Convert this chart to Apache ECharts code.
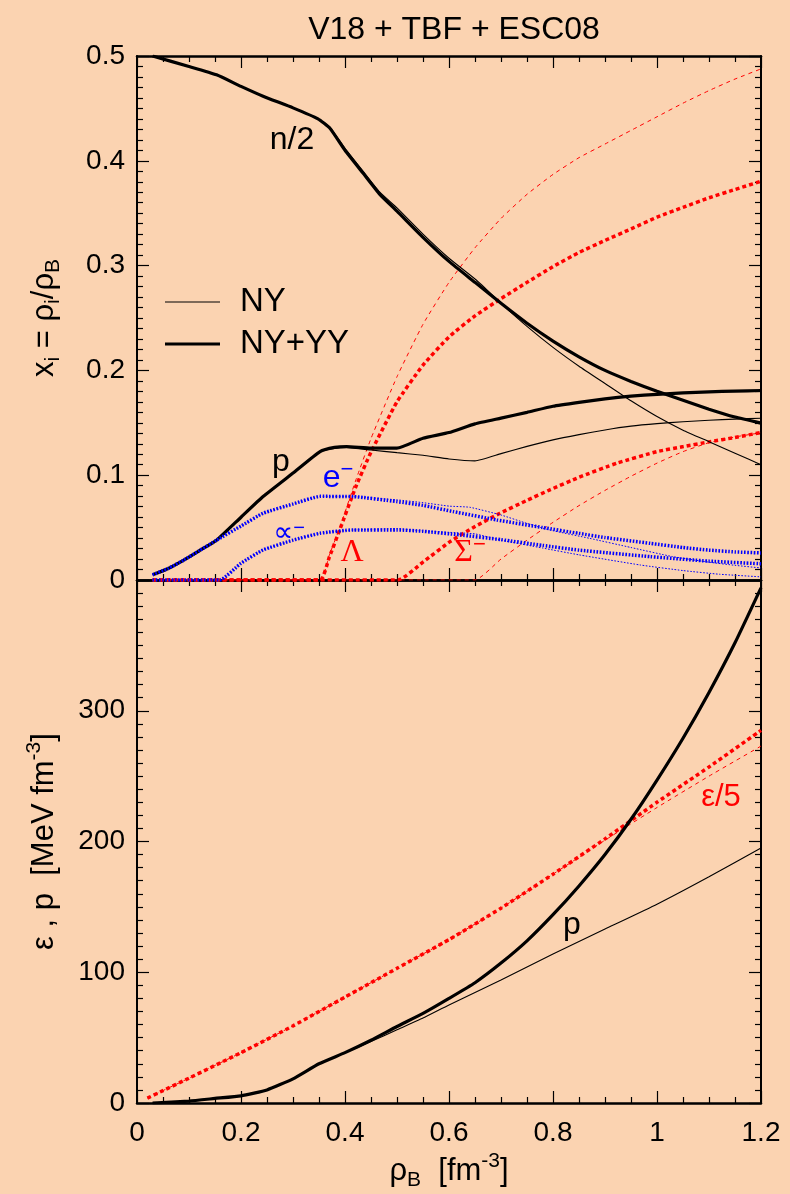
<!DOCTYPE html>
<html>
<head>
<meta charset="utf-8">
<script src="https://cdn.jsdelivr.net/npm/echarts@6/dist/echarts.min.js"></script>
<style>
html,body{margin:0;padding:0;background:#fbd3b1;}
#wrap{position:relative;width:790px;height:1194px;}
#axes,#plot{position:absolute;left:0;top:0;width:790px;height:1194px;}
</style>
</head>
<body>
<div id="wrap"><div id="axes"></div><div id="plot"></div></div>
<script>
// ---------- data ----------
// upper panel: particle fractions x_i vs rho_B  [fm^-3]
const nHalf_NY = [[0.03,0.500],[0.1,0.490],[0.153,0.482],[0.2,0.471],[0.2425,0.4616],[0.3,0.4505],[0.348,0.440],[0.371,0.432],[0.4,0.412],[0.435,0.390],[0.467,0.370],[0.5,0.355],[0.55,0.330],[0.6,0.307],[0.653,0.286],[0.7,0.264],[0.75,0.242],[0.8,0.222],[0.85,0.204],[0.9,0.1875],[0.95,0.171],[1.0,0.156],[1.05,0.143],[1.1,0.132],[1.15,0.121],[1.2,0.110]];
const nHalf_YY = [[0.03,0.500],[0.1,0.490],[0.153,0.482],[0.2,0.471],[0.2425,0.4616],[0.3,0.4505],[0.348,0.440],[0.371,0.431],[0.4,0.410],[0.435,0.388],[0.467,0.368],[0.5,0.352],[0.55,0.327],[0.6,0.304],[0.65,0.284],[0.7,0.264],[0.75,0.245],[0.8,0.228],[0.85,0.213],[0.9,0.200],[0.95,0.1895],[1.0,0.180],[1.05,0.1715],[1.1,0.163],[1.15,0.1555],[1.2,0.1497]];
const p_NY = [[0.03,0.005],[0.06,0.011],[0.09,0.019],[0.12,0.028],[0.153,0.038],[0.2,0.0599],[0.2425,0.0796],[0.3,0.102],[0.352,0.1225],[0.38,0.1255],[0.403,0.1262],[0.45,0.124],[0.5,0.1215],[0.55,0.119],[0.6,0.1155],[0.65,0.1137],[0.7,0.1206],[0.75,0.1275],[0.8,0.1337],[0.85,0.1387],[0.9,0.1432],[0.95,0.1468],[1.0,0.1492],[1.05,0.151],[1.1,0.1525],[1.15,0.1535],[1.2,0.1544]];
const p_YY = [[0.03,0.005],[0.06,0.011],[0.09,0.019],[0.12,0.028],[0.153,0.038],[0.2,0.0599],[0.2425,0.0796],[0.3,0.102],[0.352,0.1225],[0.38,0.1265],[0.403,0.1274],[0.45,0.1258],[0.5,0.1258],[0.55,0.1353],[0.6,0.1407],[0.65,0.149],[0.7,0.1545],[0.75,0.160],[0.8,0.1658],[0.85,0.1695],[0.9,0.1728],[0.95,0.1755],[1.0,0.1772],[1.05,0.1785],[1.1,0.1795],[1.15,0.1803],[1.2,0.1808]];
const e_NY = [[0.03,0.005],[0.06,0.011],[0.09,0.019],[0.12,0.028],[0.153,0.038],[0.2,0.0515],[0.2425,0.0637],[0.3,0.0725],[0.352,0.0798],[0.416,0.0796],[0.4995,0.0765],[0.55,0.0738],[0.6,0.0705],[0.64,0.0694],[0.7,0.062],[0.75,0.054],[0.78,0.0495],[0.8,0.047],[0.87,0.0398],[0.95,0.031],[1.03,0.0223],[1.1,0.017],[1.15,0.014],[1.2,0.0115]];
const e_YY = [[0.03,0.005],[0.06,0.011],[0.09,0.019],[0.12,0.028],[0.153,0.038],[0.2,0.0515],[0.2425,0.0637],[0.3,0.0725],[0.352,0.0798],[0.416,0.0796],[0.4995,0.0748],[0.55,0.0712],[0.608,0.0653],[0.692,0.0573],[0.78,0.0500],[0.85,0.0445],[0.9,0.0405],[0.987,0.0350],[1.05,0.0310],[1.1,0.0285],[1.15,0.0268],[1.2,0.0258]];
const mu_NY = [[0.03,0],[0.159,0],[0.2,0.016],[0.2425,0.0287],[0.3,0.038],[0.352,0.0446],[0.416,0.0478],[0.4995,0.049],[0.544,0.047],[0.6,0.0455],[0.65,0.044],[0.7,0.038],[0.78,0.0305],[0.85,0.024],[0.968,0.0143],[1.05,0.009],[1.12,0.0055],[1.2,0.003]];
const mu_YY = [[0.03,0],[0.159,0],[0.2,0.016],[0.2425,0.0287],[0.3,0.038],[0.352,0.0446],[0.416,0.0478],[0.4995,0.0478],[0.55,0.0465],[0.621,0.043],[0.7,0.0385],[0.78,0.033],[0.85,0.0285],[0.987,0.0223],[1.1,0.018],[1.2,0.0155]];
const lam_NY = [[0.03,0],[0.352,0],[0.37,0.024],[0.39,0.05],[0.422,0.097],[0.45,0.135],[0.5,0.194],[0.55,0.244],[0.6,0.284],[0.65,0.317],[0.7,0.345],[0.75,0.368],[0.8,0.387],[0.85,0.403],[0.9,0.416],[0.95,0.429],[1.0,0.442],[1.05,0.455],[1.1,0.467],[1.15,0.478],[1.2,0.4877]];
const lam_YY = [[0.03,0],[0.352,0],[0.37,0.022],[0.39,0.048],[0.42,0.088],[0.45,0.122],[0.5,0.170],[0.55,0.205],[0.6,0.232],[0.65,0.252],[0.7,0.2685],[0.75,0.284],[0.8,0.299],[0.85,0.3125],[0.9,0.324],[0.95,0.335],[1.0,0.3462],[1.05,0.3556],[1.1,0.3647],[1.15,0.3726],[1.2,0.3805]];
const sig_NY = [[0.03,0],[0.65,0],[0.7,0.02],[0.75,0.038],[0.8,0.055],[0.85,0.071],[0.9,0.0855],[0.95,0.099],[1.0,0.1115],[1.05,0.1225],[1.1,0.131],[1.15,0.1365],[1.2,0.1405]];
const sig_YY = [[0.03,0],[0.502,0],[0.551,0.0175],[0.602,0.0366],[0.65,0.051],[0.698,0.0637],[0.75,0.076],[0.794,0.086],[0.85,0.098],[0.923,0.1115],[1.0,0.1225],[1.051,0.1273],[1.1,0.1318],[1.15,0.136],[1.2,0.1407]];
// lower panel: energy density /5 and pressure [MeV fm^-3]
const eps5_NY = [[0.02,3.7],[0.05,9.5],[0.1,19],[0.2,38.5],[0.3,59],[0.4,81],[0.5,103],[0.6,125],[0.7,149],[0.8,175],[0.9,201],[1.0,226],[1.1,250],[1.2,273]];
const eps5_YY = [[0.02,3.7],[0.05,9.5],[0.1,19],[0.2,38.5],[0.3,59],[0.4,81],[0.5,103],[0.6,125],[0.7,149],[0.8,175],[0.9,202],[1.0,230],[1.1,257],[1.2,285]];
const P_NY = [[0.03,0],[0.1,1.5],[0.15,3.5],[0.2,5.5],[0.25,10],[0.3,18.5],[0.35,30],[0.4,38.5],[0.45,47],[0.5,56],[0.55,65],[0.6,75],[0.7,94],[0.8,114],[0.9,133],[1.0,152],[1.1,173],[1.2,195]];
const P_YY = [[0.03,0],[0.1,1.5],[0.15,3.5],[0.2,5.5],[0.25,10],[0.3,18.5],[0.35,30],[0.4,38.5],[0.45,48],[0.5,58.5],[0.55,68.5],[0.6,80],[0.65,92],[0.7,107],[0.75,124],[0.8,144],[0.85,166],[0.9,190],[0.95,217],[1.0,247],[1.05,279],[1.1,314],[1.15,352],[1.2,394]];

const xTicks = {min:0, max:1.2, interval:0.2};
const yTopTicks = {min:0, max:0.5, interval:0.1};
const yBotTicks = {min:0, max:400, interval:100};
const legendNames = ['NY', 'NY+YY'];

// ---------- shared layout ----------
const FONT = '"Liberation Sans", Arial, Helvetica, sans-serif';
const SERIF = '"Liberation Serif", "Times New Roman", serif';
const BG = '#fbd3b1';
const RED = '#ff0000', BLUE = '#0000ff';
const GRIDS = [
  {left:137, right:29, top:56, height:524},
  {left:137, right:29, top:580, height:523}
];

// ---------- layer 1: frame, ticks and tick labels ----------
function xAxisCfg(grid, pos, labels){
  return {
    type:'value', gridIndex:grid, position:pos, min:xTicks.min, max:xTicks.max, interval:xTicks.interval,
    axisLine:{show:true, onZero:false, lineStyle:{color:'#000', width:2.5}},
    axisTick:{show:true, inside:true, length:12, lineStyle:{width:1.2}},
    minorTick:{show:true, splitNumber:4, length:6, lineStyle:{width:1.2}},
    splitLine:{show:false}, minorSplitLine:{show:false},
    axisLabel:{show:labels, margin:16, fontSize:28, color:'#000', fontFamily:FONT,
      formatter: v => { const r = Math.round(v*10)/10; return (r===0?'0':(r===1?'1':r.toFixed(1))); }}
  };
}
function yAxisCfg(grid, pos, t, labels, fmt){
  const cfg = {
    type:'value', gridIndex:grid, position:pos, min:t.min, max:t.max, interval:t.interval,
    axisLine:{show:true, onZero:false, lineStyle:{color:'#000', width:2}},
    axisTick:{show:true, inside:true, length:12, lineStyle:{width:1.2}},
    minorTick:{show:true, splitNumber:10, length:6, lineStyle:{width:1.2}},
    splitLine:{show:false}, minorSplitLine:{show:false},
    axisLabel:{show:labels, margin:12, fontSize:28, color:'#000', fontFamily:FONT}
  };
  if (fmt) cfg.axisLabel.formatter = fmt;
  return cfg;
}
const axesChart = echarts.init(document.getElementById('axes'), null, {renderer:'canvas'});
axesChart.setOption({
  backgroundColor: BG,
  animation: false,
  title: {text:'V18 + TBF + ESC08', left:449, top:9, textAlign:'center', textStyle:{fontSize:32, fontWeight:'normal', color:'#000', fontFamily:FONT}},
  grid: GRIDS,
  xAxis: [xAxisCfg(0,'bottom',false), xAxisCfg(0,'top',false), xAxisCfg(1,'bottom',true), xAxisCfg(1,'top',false)],
  yAxis: [
    yAxisCfg(0,'left',yTopTicks,true, v => { const r=Math.round(v*10)/10; return r===0?'0':r.toFixed(1); }),
    yAxisCfg(0,'right',yTopTicks,false),
    yAxisCfg(1,'left',yBotTicks,true, v => (v>=400?'':String(Math.round(v)))),
    yAxisCfg(1,'right',yBotTicks,false)
  ],
  series: []
});

// ---------- layer 2: curves, labels, legend, axis titles ----------
function hiddenAxis(grid, t, extra){
  return Object.assign({
    type:'value', gridIndex:grid, min:t.min, max:t.max, interval:t.interval,
    axisLine:{show:false, onZero:false}, axisTick:{show:false}, axisLabel:{show:false},
    splitLine:{show:false}
  }, extra || {});
}
function line(name, data, gi, color, width, dash){
  return {
    name, type:'line', data, xAxisIndex:gi, yAxisIndex:gi,
    symbol:'none', showSymbol:false, smooth:0.15, clip:true,
    lineStyle:{color, width, type:dash}, itemStyle:{color}, z:2
  };
}
const THIN = 1.1, THICK = 3.2;
const redDot = [4,3], redDash = [4,4], blueDot = [1.6,1.6];
const series = [
  line('Lambda NY', lam_NY, 0, RED, 1, redDash),
  line('Lambda NY+YY', lam_YY, 0, RED, 3.5, redDot),
  line('Sigma NY', sig_NY, 0, RED, 1, redDash),
  line('Sigma NY+YY', sig_YY, 0, RED, 3.5, redDot),
  line(legendNames[0], nHalf_NY, 0, '#000', THIN, 'solid'),
  line(legendNames[1], nHalf_YY, 0, '#000', THICK, 'solid'),
  line('p NY', p_NY, 0, '#000', THIN, 'solid'),
  line('p NY+YY', p_YY, 0, '#000', THICK, 'solid'),
  line('e NY', e_NY, 0, BLUE, 1, blueDot),
  line('e NY+YY', e_YY, 0, BLUE, 3.5, blueDot),
  line('mu NY', mu_NY, 0, BLUE, 1, blueDot),
  line('mu NY+YY', mu_YY, 0, BLUE, 3.5, blueDot),
  line('eps/5 NY', eps5_NY, 1, RED, 1, redDash),
  line('eps/5 NY+YY', eps5_YY, 1, RED, 3.5, redDot),
  line('P NY', P_NY, 1, '#000', THIN, 'solid'),
  line('P NY+YY', P_YY, 1, '#000', THICK, 'solid')
];

const mainS = {fontSize:31, lineHeight:40, fontFamily:FONT, color:'#000'};
const subS  = {fontSize:21, lineHeight:14, verticalAlign:'bottom', fontFamily:FONT, color:'#000'};
const supS  = {fontSize:21, lineHeight:14, verticalAlign:'top', fontFamily:FONT, color:'#000'};
function lab(cx, cy, text, size, color, family, rich){
  const ts = {fontSize:size, fontWeight:'normal', color, fontFamily:family||FONT};
  if (rich) ts.rich = rich;
  return {text, left:cx, top:cy, padding:0, textAlign:'center', textVerticalAlign:'middle', textStyle:ts};
}
const supRich = (color, fam, size) => ({
  m:{fontSize:size, lineHeight:38, color, fontFamily:fam},
  u:{fontSize:22, lineHeight:16, verticalAlign:'top', color, fontFamily:FONT}
});
function legendCfg(name, top, h){
  return {data:[name], orient:'vertical', left:160, top, itemWidth:55, itemHeight:h, icon:'rect',
    selectedMode:false, textStyle:{fontSize:33, color:'#000', fontFamily:FONT, padding:[0,0,0,15], lineHeight:38}};
}

const plotChart = echarts.init(document.getElementById('plot'), null, {renderer:'canvas'});
plotChart.setOption({
  backgroundColor: 'transparent',
  animation: false,
  title: [
    lab(292, 140, 'n/2', 32, '#000'),
    lab(281, 462, 'p', 32, '#000'),
    lab(338, 478, '{m|e}{u|−}', 32, BLUE, FONT, supRich(BLUE, FONT, 32)),
    lab(289, 534, '{m|∝}{u|−}', 26, BLUE, FONT, {m:{fontSize:28, lineHeight:32, color:BLUE, fontFamily:'"DejaVu Sans", sans-serif'}, u:{fontSize:20, lineHeight:14, verticalAlign:'top', color:BLUE, fontFamily:FONT}}),
    lab(352, 553, 'Λ', 32, RED, SERIF),
    lab(470, 553, '{m|Σ}{u|−}', 32, RED, SERIF, supRich(RED, SERIF, 32)),
    lab(572, 925, 'p', 32, '#000'),
    lab(721, 797, 'ε/5', 31, RED)
  ],
  legend: [legendCfg(legendNames[0], 278, 1.2), legendCfg(legendNames[1], 320, 3.2)],
  grid: GRIDS,
  xAxis: [
    hiddenAxis(0, xTicks),
    hiddenAxis(1, xTicks, {name:'{m|ρ}{s|B}{m|  [fm}{u|-3}{m|]}', nameLocation:'middle', nameGap:48, nameMoveOverlap:false,
      nameTextStyle:{rich:{m:mainS, s:subS, u:supS}}})
  ],
  yAxis: [
    hiddenAxis(0, yTopTicks, {name:'{m|x}{s|i}{m| = ρ}{s|i}{m|/ρ}{s|B}', nameLocation:'middle', nameRotate:90, nameGap:73, nameMoveOverlap:false,
      nameTextStyle:{rich:{m:mainS, s:subS}}}),
    hiddenAxis(1, yBotTicks, {name:'{m|ε , p  [MeV fm}{u|-3}{m|]}', nameLocation:'middle', nameRotate:90, nameGap:73, nameMoveOverlap:false,
      nameTextStyle:{rich:{m:mainS, u:supS}}})
  ],
  series
});
</script>
</body>
</html>
